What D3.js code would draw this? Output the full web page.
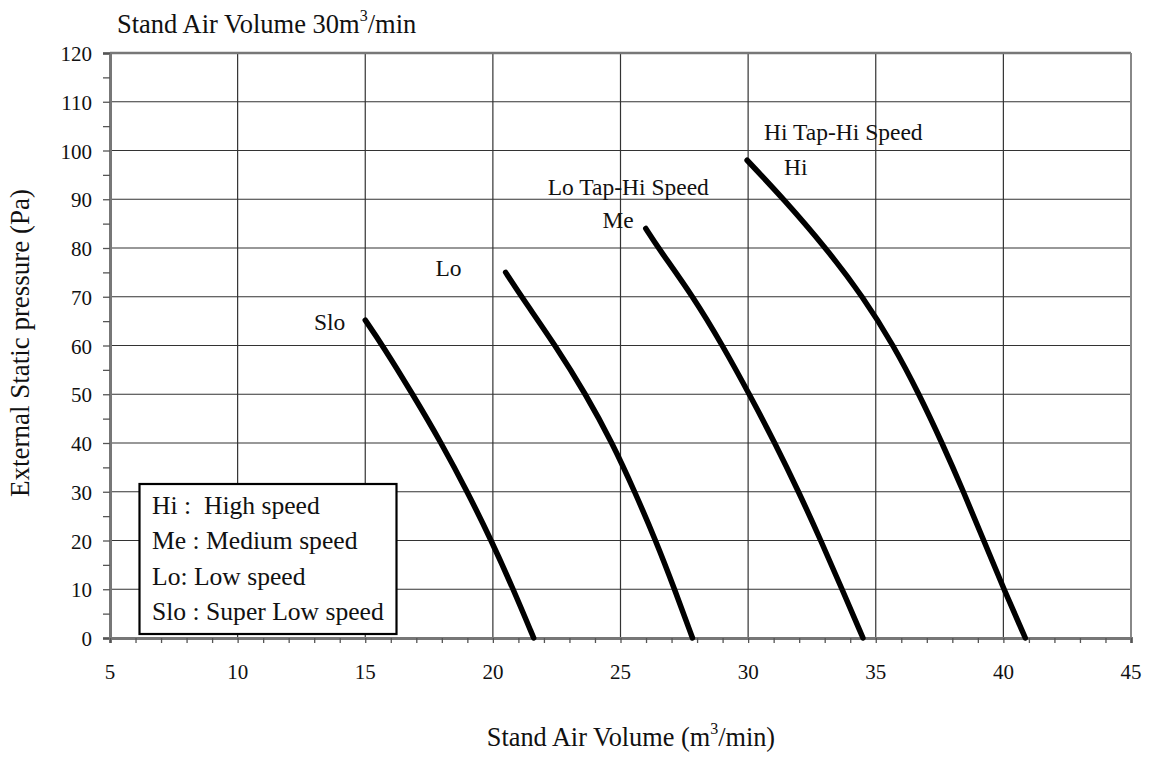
<!DOCTYPE html>
<html>
<head>
<meta charset="utf-8">
<script src="https://cdn.jsdelivr.net/npm/d3@7"></script>
<style>
  html, body { margin: 0; padding: 0; background: #fff; }
  text { font-family: "Liberation Serif", "DejaVu Serif", serif; fill: #111; white-space: pre; }
</style>
</head>
<body>
<svg id="chart" width="1150" height="764"></svg>
<script>
// ---- data ----
const xTicks = [5, 10, 15, 20, 25, 30, 35, 40, 45];
const yTicks = [0, 10, 20, 30, 40, 50, 60, 70, 80, 90, 100, 110, 120];

const sloQ = [15.0, 15.68, 16.86, 17.98, 19.0, 19.94, 20.8, 21.6];
const sloP = [65.2, 60, 50, 40, 30, 20, 10, 0];
const loQ  = [20.5, 21.12, 22.45, 23.64, 24.68, 25.56, 26.38, 27.12, 27.82];
const loP  = [75, 70, 60, 50, 40, 30, 20, 10, 0];
const meQ  = [25.99, 26.48, 27.85, 29.0, 30.05, 31.05, 31.98, 32.85, 33.68, 34.5];
const meP  = [84, 80, 70, 60, 50, 40, 30, 20, 10, 0];
const hiQ  = [29.96, 31.4, 33.05, 34.5, 35.7, 36.7, 37.6, 38.44, 39.23, 40.02, 40.86];
const hiP  = [98, 90, 80, 70, 60, 50, 40, 30, 20, 10, 0];

const legendLines = ["Hi :  High speed", "Me : Medium speed", "Lo: Low speed", "Slo : Super Low speed"];

// ---- layout ----
const svg = d3.select("#chart");
svg.append("rect").attr("width", 1150).attr("height", 764).attr("fill", "#fff");
const L = 110, R = 1131, T = 53, B = 638;
const x = d3.scaleLinear().domain([5, 45]).range([L, R]);
const y = d3.scaleLinear().domain([0, 120]).range([B, T]);

// grid
const g = svg.append("g");
g.selectAll(".vg").data(xTicks.filter(d => d > 5 && d < 45)).enter().append("line")
  .attr("x1", d => x(d)).attr("x2", d => x(d)).attr("y1", T).attr("y2", B)
  .attr("stroke", "#333").attr("stroke-width", 1.2);
g.selectAll(".hg").data(yTicks.filter(d => d > 0 && d < 120)).enter().append("line")
  .attr("y1", d => y(d)).attr("y2", d => y(d)).attr("x1", L).attr("x2", R)
  .attr("stroke", "#333").attr("stroke-width", 1.2);

// frame
g.append("line").attr("x1", L).attr("x2", R).attr("y1", T).attr("y2", T).attr("stroke", "#777").attr("stroke-width", 2.5);
g.append("line").attr("x1", R).attr("x2", R).attr("y1", T).attr("y2", B).attr("stroke", "#888").attr("stroke-width", 2);

// axes
const yAxis = d3.axisLeft(y).tickValues(d3.range(0, 121, 5)).tickSize(7).tickFormat("");
const ya = svg.append("g").attr("transform", `translate(${L},0)`).call(yAxis);
ya.select(".domain").attr("stroke", "#777").attr("stroke-width", 3);
ya.selectAll(".tick line").attr("stroke", "#555").attr("stroke-width", 1.3);

const xAxis = d3.axisBottom(x).tickValues(d3.range(5, 46, 1)).tickSize(5).tickFormat("");
const xa = svg.append("g").attr("transform", `translate(0,${B})`).call(xAxis);
xa.select(".domain").attr("stroke", "#777").attr("stroke-width", 3);
xa.selectAll(".tick line").attr("stroke", "#555").attr("stroke-width", 1.3);

// tick labels
svg.selectAll(".yl").data(yTicks).enter().append("text")
  .attr("x", L - 18).attr("y", d => y(d) + 8)
  .attr("text-anchor", "end").attr("font-size", 21).text(d => d);
svg.selectAll(".xl").data(xTicks).enter().append("text")
  .attr("x", d => x(d)).attr("y", B + 41)
  .attr("text-anchor", "middle").attr("font-size", 21).text(d => d);

// curves
const line = d3.line().x(d => x(d[0])).y(d => y(d[1])).curve(d3.curveBasis);
const series = [
  { q: sloQ, p: sloP }, { q: loQ, p: loP }, { q: meQ, p: meP }, { q: hiQ, p: hiP }
];
series.forEach(s => {
  svg.append("path").datum(d3.zip(s.q, s.p)).attr("d", line)
    .attr("fill", "none").attr("stroke", "#000").attr("stroke-width", 5.5)
    .attr("stroke-linecap", "round");
});

// curve labels (relative to start of each curve)
function lab(q, p, dx, dy, t, anchor) {
  svg.append("text").attr("x", x(q) + dx).attr("y", y(p) + dy)
    .attr("text-anchor", anchor).attr("font-size", 23.5).text(t);
}
lab(sloQ[0], sloP[0], -20, 10, "Slo", "end");
lab(loQ[0], loP[0], -44, 4, "Lo", "end");
lab(meQ[0], meP[0], -12, -1, "Me", "end");
lab(meQ[0], meP[0], -98, -34, "Lo Tap-Hi Speed", "start");
lab(hiQ[0], hiP[0], 37, 15, "Hi", "start");
lab(hiQ[0], hiP[0], 17, -20, "Hi Tap-Hi Speed", "start");

// legend box
svg.append("rect").attr("x", 139.5).attr("y", 484).attr("width", 257).attr("height", 150)
  .attr("fill", "#fff").attr("stroke", "#000").attr("stroke-width", 2.2);
svg.selectAll(".lg").data(legendLines).enter().append("text")
  .attr("x", 152).attr("y", (d, i) => 514 + i * 35.3)
  .attr("font-size", 25.6).text(d => d);

// titles
const t1 = svg.append("text").attr("x", 117).attr("y", 33).attr("font-size", 26.5);
t1.append("tspan").text("Stand Air Volume 30m");
t1.append("tspan").attr("font-size", 16).attr("dy", -12).text("3");
t1.append("tspan").attr("dy", 12).text("/min");

const t2 = svg.append("text").attr("x", 631).attr("y", 746).attr("font-size", 26.3).attr("text-anchor", "middle");
t2.append("tspan").text("Stand Air Volume (m");
t2.append("tspan").attr("font-size", 16).attr("dy", -12).text("3");
t2.append("tspan").attr("dy", 12).text("/min)");

svg.append("text").attr("transform", "translate(29,343) rotate(-90)")
  .attr("text-anchor", "middle").attr("font-size", 27)
  .text("External Static pressure (Pa)");
</script>
</body>
</html>
